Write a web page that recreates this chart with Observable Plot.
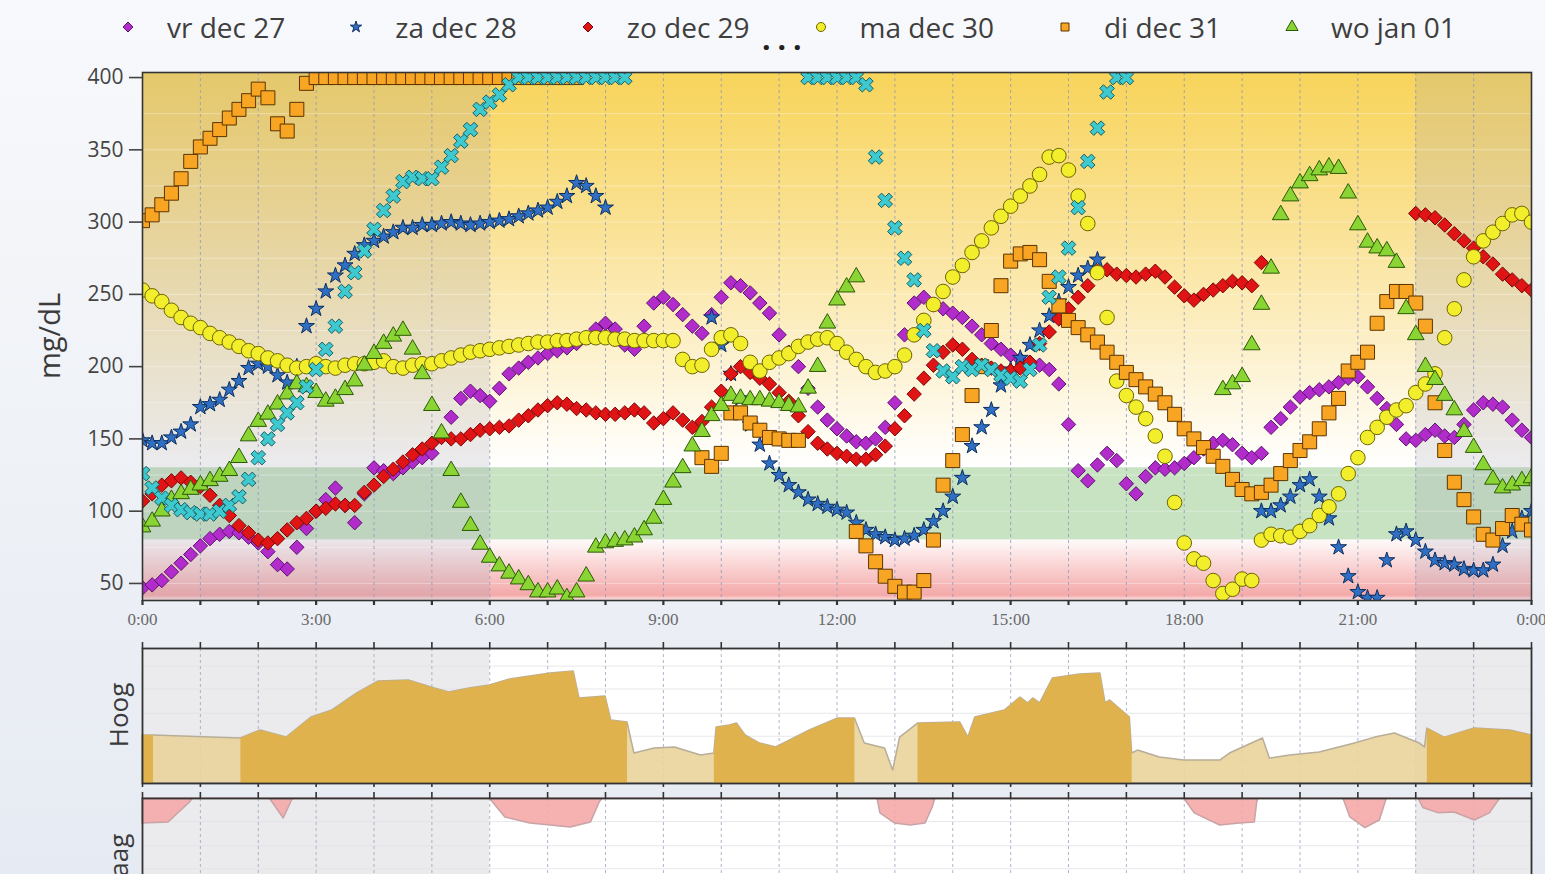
<!DOCTYPE html>
<html><head><meta charset="utf-8">
<script src="https://cdn.jsdelivr.net/npm/d3@7"></script>
<script src="https://cdn.jsdelivr.net/npm/@observablehq/plot@0.6"></script>
<style>
html,body{margin:0;padding:0;}
body{width:1545px;height:874px;overflow:hidden;position:relative;background:linear-gradient(180deg,#f8f9fc 0%,#eef1f6 55%,#e6eaf2 100%);font-family:"Open Sans",sans-serif;}
#legend{position:absolute;top:4px;left:121px;height:46px;display:flex;align-items:center;}
.item{display:flex;align-items:center;margin-right:64px;}
.item svg{margin-right:32px;overflow:visible}
.item span{font-size:28px;color:#3e3e3e;white-space:nowrap}
#dots{position:absolute;left:762px;top:18px;font-size:30px;font-weight:bold;letter-spacing:7px;color:#222}
.vlabel{position:absolute;transform:translate(-50%,-50%) rotate(-90deg);color:#3a3a3a;white-space:nowrap}
#main,#hoog,#laag{position:absolute;left:0}
#main{top:56px}#hoog{top:638px}#laag{top:790px}
</style></head>
<body>
<div id="legend"></div>
<div id="dots">...</div>
<div class="vlabel" style="left:48px;top:336px;font-size:29px">mg/dL</div>
<div class="vlabel" style="left:118px;top:715px;font-size:26px">Hoog</div>
<div class="vlabel" style="left:118px;top:862px;font-size:26px">Laag</div>
<div id="main"></div><div id="hoog"></div><div id="laag"></div>
<script>
// ---------- data ----------
const seriesNames = ["vr dec 27","za dec 28","zo dec 29","ma dec 30","di dec 31","wo jan 01","do jan 02"];
const legendNames = ["vr dec 27","za dec 28","zo dec 29","ma dec 30","di dec 31","wo jan 01"];
const stepMinutes = 10; // one reading every 10 minutes, 0:00 .. 24:00
const _ = null;
const vrDec27 = [47,49,52,58,64,70, 76,81,84,86,85,82, 78,72,63,60,75,88, 100,108,116,104,92,112,
 130,128,126,130,134,137, 140,152,165,178,183,180, 176,185,195,199,203,206, 209,211,213,216,220,226,
 230,226,215,212,228,244, 248,243,236,228,223,236, 248,258,256,251,244,237, 222,210,200,185,172,163,
 157,152,148,147,150,158, 175,222,244,248,243,240, 237,234,228,222,216,212, 208,205,203,201,198,188,
 160,128,121,132,140,135, 119,112,124,130,129,130, 133,137,143,147,149,146, 140,137,140,158,164,172,
 179,182,184,186,189,192, 193,186,178,171,160,150, 149,153,156,152,151,160, 170,175,174,172,163,156, 151];
const zaDec28 = [149,147,147,151,155,160, 172,174,177,184,190,199, 202,200,194,189,200,228, 240,252,263,270,278,284,
 287,290,293,296,296,298, 298,299,300,299,298,299, 300,301,302,304,306,308, 310,314,318,327,325,318,
 310,_,_,_,_,_, _,_,_,_,_,234, 215,195,178,160,146,133, 125,118,113,108,105,103,
 101,99,92,87,84,82, 80,81,83,87,93,100, 110,123,145,158,170,187, 198,206,215,225,235,245,
 255,263,268,274,_,_, _,_,_,_,_,_, _,_,_,_,_,_, _,_,100,100,104,110,
 118,122,110,95,75,55, 44,40,40,66,84,86, 80,72,66,64,63,60, 59,59,63,76,86,95, 100];
const zoDec29 = [107,112,118,121,123,120, 117,111,104,97,90,85, 80,78,81,87,92,95, 100,102,105,104,104,113,
 118,124,129,134,139,143, 147,151,150,150,153,156, 157,158,159,163,166,170, 173,175,174,171,170,168,
 167,167,168,170,168,161, 164,168,163,158,162,172, 183,195,200,196,192,188, 182,176,166,155,147,143,
 140,138,136,136,139,145, 157,166,181,192,201,210, 215,212,205,201,199,197, 197,199,203,216,224,233,
 240,248,256,266,267,264, 263,262,264,266,262,255, 249,246,250,253,256,259, 258,256,272,_,_,_,
 _,_,_,_,_,_, _,_,_,_,_,_, 306,305,303,298,292,287, 282,276,271,264,260,256, 253];
const maDec30 = [253,249,245,239,234,230, 227,223,220,217,214,211, 209,206,204,201,199,200, 202,200,199,201,202,202,
 203,204,200,199,201,202, 202,204,206,208,210,211, 212,213,214,215,216,217, 217,218,218,219,220,220,
 220,219,219,218,218,218, 218,218,205,200,201,212, 220,222,216,203,197,203, 206,209,214,217,219,220,
 216,210,205,200,196,197, 200,208,222,232,243,252, 262,270,279,287,296,304, 311,318,325,333,345,346,
 336,318,299,265,234,190, 180,172,164,152,138,106, 78,67,64,52,43,46, 53,52,80,84,83,82,
 86,90,97,103,112,126, 137,151,158,165,170,173, 182,188,195,220,240,260, 276,287,293,299,305,306, 300];
const diDec31 = [301,305,312,320,330,342, 352,358,364,372,378,384, 392,386,368,363,378,396, 400,400,400,400,400,400,
 400,400,400,400,400,400, 400,400,400,400,400,400, 400,400,400,400,400,400, 400,400,400,400,_,_,
 _,_,_,_,_,_, _,_,_,_,137,131, 140,168,168,161,156,151, 150,149,149,_,_,_,
 _,_,86,76,65,55, 48,44,44,52,80,118, 135,153,180,200,225,256, 273,278,279,274,259,242,
 232,227,222,217,210,203, 196,191,186,181,175,167, 157,150,144,138,131,122, 115,112,113,118,126,135,
 142,148,157,168,178,197, 203,210,230,245,252,252, 244,228,175,142,120,108, 96,84,80,88,97,91, 87];
const woJan01 = [89,93,100,108,112,115, 118,121,124,128,137,152, 162,167,174,181,188,186, 182,176,178,184,190,201,
 209,216,221,225,212,195, 173,154,128,106,90,77, 68,62,57,53,49,44, 44,46,40,44,55,75,
 78,79,80,82,87,95, 108,120,130,145,155,166, 173,180,178,177,177,176, 175,173,172,185,200,230,
 246,255,262,_,_,_, _,_,_,_,_,_, _,_,_,_,_,_, _,_,_,_,_,_,
 _,_,_,_,_,_, _,_,_,_,_,_, _,_,_,_,184,188, 193,215,243,268,305,318,
 327,332,336,338,337,320, 298,286,282,280,272,240, 222,200,191,180,170,155, 144,132,122,116,118,121, 123];
const doJan02 = [126,116,109,104,101,99, 98,98,100,104,110,122, 137,150,160,168,175,186, 198,212,228,252,265,280,
 295,308,318,328,331,330, 330,338,346,356,364,378, 383,388,395,400,400,400, 400,400,400,400,400,400,
 400,400,400,_,_,_, _,_,_,_,_,_, _,_,_,_,_,_, _,_,_,400,400,400,
 400,400,400,395,345,315, 296,275,260,225,211,197, 193,200,198,201,198,194, 192,190,198,215,248,262,
 282,310,342,365,390,400, 400,_,_,_,_,_, _,_,_,_,_,_, _,_,_,_,_,_,
 _,_,_,_,_,_, _,_,_,_,_,_, _,_,_,_,_,_, _,_,_,_,_,_, _];
const seriesValues = [vrDec27, zaDec28, zoDec29, maDec30, diDec31, woJan01, doJan02];

const yTicks = [50,100,150,200,250,300,350,400];
const xTickHours = [0,3,6,9,12,15,18,21,24];
const xTickLabels = ["0:00","3:00","6:00","9:00","12:00","15:00","18:00","21:00","0:00"];
const hourTicks = d3.range(0, 25);
const targetLow = 80, targetHigh = 130, highShadeFrom = 130;
const yDomain = [38.2, 403.5];
const nightRanges = [[0, 6], [22, 24]];

// Hoog panel (share of readings above range), hour / value
const hoogPoints = [[0,35.6],[0.19,35.6],[1.7,33.3],[2.04,39.3],[2.49,34.1],[2.92,48.9],[3.28,54.1],[3.71,66.7],[4.08,75.6],[4.6,76.3],
 [5.05,70.4],[5.3,67.4],[5.65,70.4],[6.0,72.6],[6.35,77],[7.05,81.5],[7.45,83],[7.55,63],[8.0,64.4],[8.1,46.7],[8.38,45.2],
 [8.5,22.2],[8.85,25.9],[9.2,26.7],[9.65,20.7],[9.88,22.2],[9.92,41.5],[10.15,43],[10.27,44.4],[10.42,35.6],[10.67,29.6],
 [10.95,26.7],[11.53,39.3],[12.02,48.1],[12.31,48.1],[12.48,29.6],[12.83,25.9],[12.97,9.6],[13.09,34],[13.4,44.4],[14.13,45.2],
 [14.27,34],[14.39,48.9],[14.9,54.1],[15.17,63.7],[15.3,59.3],[15.39,63],[15.51,59.3],[15.73,77.8],[16.2,80.7],[16.55,81.5],
 [16.64,59.3],[16.72,61.5],[17.06,48.9],[17.1,22.2],[17.2,24.4],[17.58,19.3],[18.0,17],[18.62,17],[18.79,22.2],[19.36,33.3],
 [19.48,18.5],[19.83,20.7],[20.34,23],[20.95,29.6],[21.3,34],[21.64,37],[22.07,29.6],[22.16,26.7],[22.2,40.7],[22.5,34],
 [23.02,40.7],[23.63,39.3],[24,35.6]];
const hoogDarkRanges = [[0,0.19],[1.7,8.38],[9.88,12.31],[13.4,17.1],[22.2,24]];
// Laag panel (share of readings below range)
const laagPoints = [[0,18.5],[0.45,17.8],[0.82,3],[0.87,0],[2.2,0],[2.44,14.8],[2.6,0],[6.0,0],[6.27,14],[6.7,18.5],[7.4,21.5],
 [7.75,17.8],[7.9,3],[7.95,0],[12.7,0],[12.75,11],[13.0,18.5],[13.27,20],[13.53,18.5],[13.65,7],[13.7,0],[18.0,0],[18.18,11],
 [18.62,20],[18.96,18.5],[19.22,17.8],[19.26,3],[19.28,0],[20.75,0],[20.87,14],[21.13,22],[21.38,16.3],[21.5,0],[22.05,0],
 [22.13,7],[22.4,11],[22.67,10.4],[23.02,16.3],[23.28,11],[23.46,0],[24,0]];

// ---------- styles ----------
const symX = { draw(ctx, size) {
  const r = Math.sqrt(size / 5) / 2, c = Math.SQRT1_2;
  const pts = [[-3,-1],[-1,-1],[-1,-3],[1,-3],[1,-1],[3,-1],[3,1],[1,1],[1,3],[-1,3],[-1,1],[-3,1]];
  pts.forEach(([a,b], i) => { const x = (a - b) * c * r, y = (a + b) * c * r; i ? ctx.lineTo(x, y) : ctx.moveTo(x, y); });
  ctx.closePath();
}};
const styles = [
  {fill:"#b22ccc", stroke:"#5c1470", symbol:d3.symbolDiamond2, r:6.5},
  {fill:"#2f6fc4", stroke:"#0d2e5e", symbol:d3.symbolStar, r:5.0},
  {fill:"#e01414", stroke:"#7a0606", symbol:d3.symbolDiamond2, r:6.5},
  {fill:"#f3ee2c", stroke:"#6b6400", symbol:d3.symbolCircle, r:7.3},
  {fill:"#f7a522", stroke:"#5c3400", symbol:d3.symbolSquare, r:7.9},
  {fill:"#8ad433", stroke:"#2b5a06", symbol:d3.symbolTriangle, r:6.2},
  {fill:"#3cc9cf", stroke:"#1b5d62", symbol:symX, r:6.5}
];

// ---------- legend ----------
const legend = document.getElementById("legend");
legendNames.forEach((name, i) => {
  const s = styles[i];
  const path = d3.symbol(s.symbol, s.symbol === d3.symbolStar ? 40 : 64)();
  const item = document.createElement("div");
  item.className = "item";
  item.innerHTML = `<svg width="14" height="14" viewBox="-7 -7 14 14"><path d="${path}" fill="${s.fill}" stroke="${s.stroke}" stroke-width="1"/></svg><span>${name}</span>`;
  legend.appendChild(item);
});

// ---------- main chart ----------
const stepH = stepMinutes / 60;
const dotMarks = seriesValues.map((vals, k) => {
  const rows = vals.map((v, i) => ({series: seriesNames[k], h: i * stepH, v})).filter(d => d.v != null);
  const s = styles[k];
  return Plot.dot(rows, {x:"h", y:"v", symbol:s.symbol, r:s.r, fill:s.fill, stroke:s.stroke, strokeWidth:1, clip:true});
});

const main = Plot.plot({
  width:1545, height:582, marginLeft:142, marginRight:14, marginTop:16, marginBottom:38,
  style:{background:"transparent", fontFamily:"'Open Sans', sans-serif", overflow:"visible"},
  x:{domain:[0,24], label:null},
  y:{domain:yDomain, label:null},
  marks:[
    Plot.rect([0], {x1:0, x2:24, y1:highShadeFrom, y2:yDomain[1], fill:"url(#gYellow)"}),
    Plot.rect([0], {x1:0, x2:24, y1:targetLow, y2:targetHigh, fill:"#c7e3c2"}),
    Plot.rect([0], {x1:0, x2:24, y1:yDomain[0], y2:targetLow, fill:"url(#gRed)"}),
    Plot.rect(nightRanges, {x1:d=>d[0], x2:d=>d[1], y1:yDomain[0], y2:yDomain[1], fill:"#9c9cb0", fillOpacity:0.2}),
    Plot.ruleY(d3.range(50, 400, 25), {stroke:"#ffffff", strokeOpacity:0.35}),
    Plot.ruleX(hourTicks.slice(1, -1), {stroke:"#8f98b8", strokeOpacity:0.8, strokeDasharray:"3,3"}),
    ...dotMarks,
    Plot.frame({stroke:"#333", strokeWidth:1.6}),
    Plot.axisY(yTicks, {label:null, tickSize:13, tickPadding:6, fontSize:21, color:"#444", strokeWidth:1.6}),
    Plot.axisX(hourTicks, {label:null, tickSize:5, strokeWidth:2.2, color:"#333", tickFormat:()=>""}),
    Plot.axisX(xTickHours, {label:null, tickSize:0, tickPadding:12, fontSize:17, fontFamily:"'Liberation Serif', serif", color:"#6a6a6a",
      tickFormat:d => xTickLabels[xTickHours.indexOf(d)]})
  ]
});
const ns = "http://www.w3.org/2000/svg";
const defs = document.createElementNS(ns, "defs");
defs.innerHTML = `<linearGradient id="gYellow" x1="0" y1="0" x2="0" y2="1">
  <stop offset="0" stop-color="#f8d45a"/><stop offset="0.4" stop-color="#fae296"/>
  <stop offset="0.75" stop-color="#fdf3d4"/><stop offset="1" stop-color="#ffffff"/></linearGradient>
  <linearGradient id="gRed" x1="0" y1="0" x2="0" y2="1">
  <stop offset="0" stop-color="#fffafa"/><stop offset="0.92" stop-color="#f4a9a9"/><stop offset="1" stop-color="#fbe4e4"/></linearGradient>`;
main.insertBefore(defs, main.firstChild);
document.getElementById("main").appendChild(main);

// ---------- sub panels ----------
const hoogRows = hoogPoints.map(([h, v]) => ({h, v}));
const hoogDark = hoogDarkRanges.flatMap(([a, b], k) => hoogRows.filter(d => d.h >= a - 1e-9 && d.h <= b + 1e-9).map(d => ({...d, seg:k})));
const laagRows = laagPoints.map(([h, v]) => ({h, v}));

function panelBase() {
  return [
    Plot.rect([0], {x1:0, x2:24, y1:0, y2:100, fill:"#ffffff"}),
    Plot.rect(nightRanges, {x1:d=>d[0], x2:d=>d[1], y1:0, y2:100, fill:"#ebebed"}),
    Plot.ruleY([17, 35, 52, 70, 87], {stroke:"#e2e2e6", strokeOpacity:0.8}),
    Plot.ruleX(hourTicks.slice(1, -1), {stroke:"#9aa2c0", strokeOpacity:0.8, strokeDasharray:"3,3"})
  ];
}
const hoog = Plot.plot({
  width:1545, height:152, marginLeft:142, marginRight:14, marginTop:10, marginBottom:7,
  style:{background:"transparent", overflow:"visible"},
  x:{domain:[0,24], label:null}, y:{domain:[0,100], axis:null, label:null},
  marks:[
    ...panelBase(),
    Plot.areaY(hoogRows, {x:"h", y:"v", fill:"#ead49b", fillOpacity:0.9, stroke:"#b7ad98", strokeWidth:1.5}),
    Plot.areaY(hoogDark, {x:"h", y:"v", z:"seg", fill:"#dfb24d"}),
    Plot.frame({stroke:"#333", strokeWidth:1.8}),
    Plot.axisX(hourTicks, {anchor:"top", label:null, tickSize:7, strokeWidth:1.6, color:"#333", tickFormat:()=>""}),
    Plot.axisX(hourTicks, {anchor:"bottom", label:null, tickSize:4, strokeWidth:1.6, color:"#333", tickFormat:()=>""})
  ]
});
document.getElementById("hoog").appendChild(hoog);

const laag = Plot.plot({
  width:1545, height:153, marginLeft:142, marginRight:14, marginTop:8, marginBottom:10,
  style:{background:"transparent", overflow:"visible"},
  x:{domain:[0,24], label:null}, y:{domain:[0,100], reverse:true, axis:null, label:null},
  marks:[
    ...panelBase(),
    Plot.areaY(laagRows, {x:"h", y:"v", fill:"#f5a8a8", fillOpacity:0.9, stroke:"#c9a3a6", strokeWidth:1.5}),
    Plot.frame({stroke:"#333", strokeWidth:1.8}),
    Plot.axisX(hourTicks, {anchor:"top", label:null, tickSize:7, strokeWidth:1.6, color:"#333", tickFormat:()=>""})
  ]
});
document.getElementById("laag").appendChild(laag);
</script>
</body></html>
